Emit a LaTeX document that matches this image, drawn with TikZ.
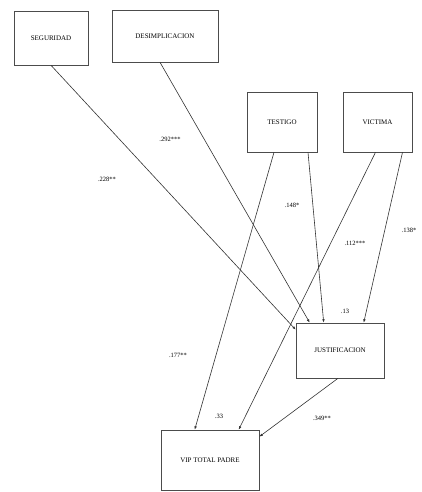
\documentclass[tikz,border=0pt]{standalone}
\usepackage{fontspec}
\setmainfont{Liberation Serif}
\usetikzlibrary{arrows.meta}
\begin{document}
\begin{tikzpicture}[x=1pt,y=-1pt,
    box/.style={draw=black!70, line width=0.6pt, inner sep=2pt, font=\fontsize{7}{8}\selectfont},
    effect/.style={draw=black!80, line width=0.6pt, -{Latex[length=3.5pt,width=2.6pt]}},
    coef/.style={font=\fontsize{6.5}{8}\selectfont}]
    \useasboundingbox (0,0) rectangle (422,492);

    \node [box, minimum width=74pt, minimum height=54pt] (seg) at (51,38) {SEGURIDAD};
    \node [box, minimum width=106pt, minimum height=52pt] (des) at (165,36) {DESIMPLICACION};
    \node [box, minimum width=70pt, minimum height=60pt] (tes) at (282,122) {TESTIGO};
    \node [box, minimum width=69pt, minimum height=60pt] (vic) at (377.5,122) {VICTIMA};
    \node [box, minimum width=88pt, minimum height=55pt] (jus) at (340,350.5) {JUSTIFICACION};
    \node [box, minimum width=98pt, minimum height=60pt] (vip) at (210,460) {VIP TOTAL PADRE};

    \draw [effect] (seg.south) -- ([yshift=-7pt]jus.north west);
    \draw [effect] ([xshift=-5pt]des.south) -- ([xshift=14pt]jus.north west);
    \draw [effect] ([xshift=-8pt]tes.south) -- ([xshift=34pt]vip.north west);
    \draw [effect] ([xshift=26pt]tes.south) -- ([xshift=28pt]jus.north west);
    \draw [effect] ([xshift=-2pt]vic.south) -- ([xshift=78pt]vip.north west);
    \draw [effect] ([xshift=25pt]vic.south) -- ([xshift=68pt]jus.north west);
    \draw [effect] ([xshift=-2pt]jus.south) -- ([yshift=-7pt]vip.north east);

    \node [coef] (c1) at (107,179) {.228**};
    \node [coef] (c2) at (170,139) {.292***};
    \node [coef] (c3) at (292,205) {.148*};
    \node [coef] (c4) at (355,243) {.112***};
    \node [coef] (c5) at (409,230) {.138*};
    \node [coef] (c6) at (345,311) {.13};
    \node [coef] (c7) at (178,355) {.177**};
    \node [coef] (c8) at (219,416) {.33};
    \node [coef] (c9) at (322,418) {.349**};
\end{tikzpicture}
\end{document}
